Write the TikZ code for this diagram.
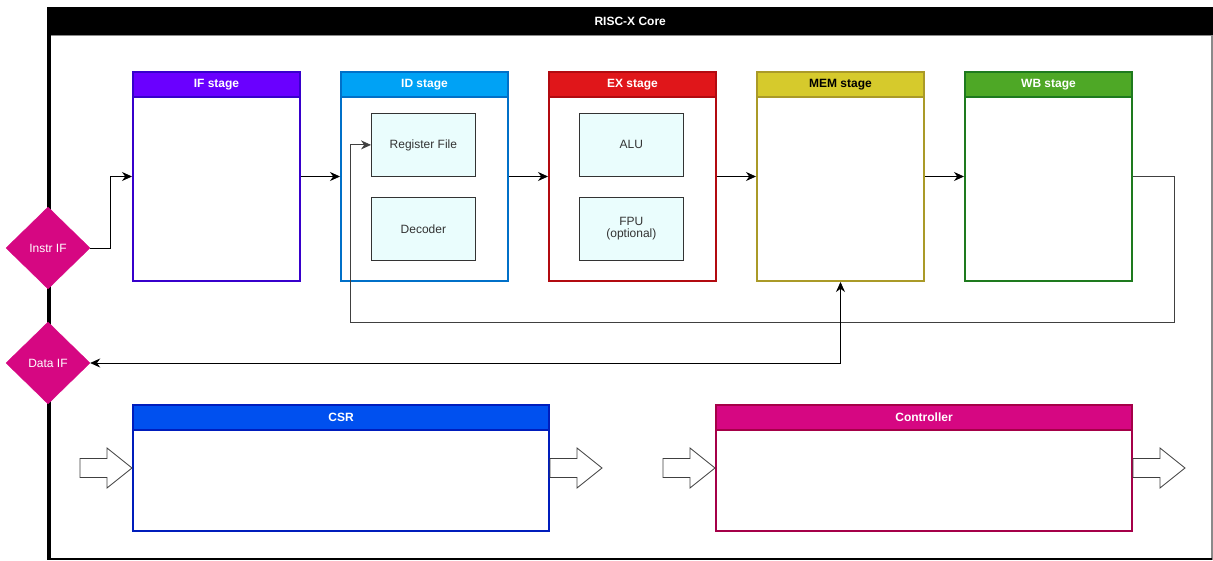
\documentclass[tikz,border=0pt]{standalone}
\usepackage{fontspec}
\setmainfont{Liberation Sans}
\usetikzlibrary{shapes.geometric,arrows.meta}
\newcommand{\stagewidth}{167pt}
\newcommand{\stageheight}{209pt}
\newcommand{\titleheight}{25pt}
\definecolor{ifhead}{HTML}{6A00FF}
\definecolor{ifborder}{HTML}{3700CC}
\definecolor{idhead}{HTML}{00A2F5}
\definecolor{idborder}{HTML}{0070C8}
\definecolor{exhead}{HTML}{E0161A}
\definecolor{exborder}{HTML}{B20A10}
\definecolor{memhead}{HTML}{D6CA2C}
\definecolor{memborder}{HTML}{AA9A28}
\definecolor{wbhead}{HTML}{4EA826}
\definecolor{wbborder}{HTML}{1E7A1E}
\definecolor{csrhead}{HTML}{0050EF}
\definecolor{csrborder}{HTML}{001DBC}
\definecolor{ctrlhead}{HTML}{D60782}
\definecolor{ctrlborder}{HTML}{A50048}
\definecolor{unitbg}{HTML}{EAFDFD}
\definecolor{unittext}{HTML}{333333}
\definecolor{framegray}{HTML}{8A8A8A}

\begin{document}
\begin{tikzpicture}[x=1pt, y=-1pt,
  stage/.style={draw, fill=white, line width=2pt, anchor=north west, inner sep=0pt,
    minimum width=\stagewidth, minimum height=\stageheight},
  wide/.style={stage, minimum width=416pt, minimum height=126pt},
  header/.style={anchor=north, line width=2pt, inner sep=0pt, minimum height=\titleheight,
    font=\bfseries\fontsize{12}{14}\selectfont},
  unit/.style={draw=unittext, fill=unitbg, line width=0.8pt, anchor=north west,
    minimum width=104pt, minimum height=63pt, align=center, text=unittext,
    font=\fontsize{12}{14}\selectfont},
  port/.style={diamond, aspect=1, fill=ctrlhead, draw=ctrlhead, inner sep=0pt,
    minimum width=84pt, minimum height=82pt, text=white,
    font=\fontsize{12}{14}\selectfont},
  conn/.style={line width=0.8pt, -{Stealth[length=10pt,width=9pt]}},
  bigarrow/.style={draw=black!75, fill=white, line width=0.8pt, line join=miter}
]
  \useasboundingbox (0,0) rectangle (1213,561);

  % === CORE FRAME ===
  \draw[framegray, line width=1.5pt] (48,35) rectangle (1212,559);
  \draw[black, line width=1.5pt] (48,559) -- (1212,559);
  \draw[black, line width=4pt] (49,35) -- (49,560);
  \node[fill=black, anchor=north west, minimum width=1166pt, minimum height=28pt, inner sep=0pt,
    text=white, font=\bfseries\fontsize{12}{14}\selectfont] (core) at (47,7) {RISC-X Core};

  % === PIPELINE STAGES ===
  \node[stage, draw=ifborder] (ifs) at (132,71) {};
  \node[header, fill=ifhead, draw=ifborder, minimum width=\stagewidth, text=white] (ifh) at (ifs.north) {IF stage};

  \node[stage, draw=idborder] (ids) at (340,71) {};
  \node[header, fill=idhead, draw=idborder, minimum width=\stagewidth, text=white] (idh) at (ids.north) {ID stage};
  \node[unit] (regfile) at (371,113) {Register File};
  \node[unit] (decoder) at (371,197) {Decoder};

  \node[stage, draw=exborder] (exs) at (548,71) {};
  \node[header, fill=exhead, draw=exborder, minimum width=\stagewidth, text=white] (exh) at (exs.north) {EX stage};
  \node[unit] (alu) at (579,113) {ALU};
  \node[unit] (fpu) at (579,197) {FPU\\[-2pt](optional)};

  \node[stage, draw=memborder] (mems) at (756,71) {};
  \node[header, fill=memhead, draw=memborder, minimum width=\stagewidth, text=black] (memh) at (mems.north) {MEM stage};

  \node[stage, draw=wbborder] (wbs) at (964,71) {};
  \node[header, fill=wbhead, draw=wbborder, minimum width=\stagewidth, text=white] (wbh) at (wbs.north) {WB stage};

  % === INTERFACES ===
  \node[port] (instr) at (48,248) {Instr IF};
  \node[port] (data) at (48,363) {Data IF};

  % === CONNECTIONS ===
  \draw[conn] (instr.east) -- ++(20,0) |- (ifs.west);
  \draw[conn] (ifs.east) -- (ids.west);
  \draw[conn] (ids.east) -- (exs.west);
  \draw[conn] (exs.east) -- (mems.west);
  \draw[conn] (mems.east) -- (wbs.west);
  \coordinate (fbturn) at (350,322);
  \draw[conn, black!75] (wbs.east) -- ++(41,0) |- (fbturn) |- (regfile.west);
  \draw[conn, {Stealth[length=10pt,width=9pt]}-{Stealth[length=10pt,width=9pt]}] (data.east) -| (mems.south);

  % === CSR AND CONTROLLER ===
  \node[wide, draw=csrborder] (csr) at (132,404) {};
  \node[header, fill=csrhead, draw=csrborder, minimum width=416pt, text=white] (csrh) at (csr.north) {CSR};

  \node[wide, draw=ctrlborder] (ctrl) at (715,404) {};
  \node[header, fill=ctrlhead, draw=ctrlborder, minimum width=416pt, text=white] (ctrlh) at (ctrl.north) {Controller};

  % block arrows in and out
  \coordinate (csrout) at ([xshift=52pt]csr.east);
  \coordinate (ctrlout) at ([xshift=52pt]ctrl.east);
  \foreach \tip in {csr.west, ctrl.west, csrout, ctrlout}{
    \draw[bigarrow, shift={(\tip)}] (-52,-9.5) -- (-25,-9.5) -- (-25,-20) -- (0,0)
      -- (-25,20) -- (-25,9.5) -- (-52,9.5) -- cycle;
  }
\end{tikzpicture}
\end{document}
